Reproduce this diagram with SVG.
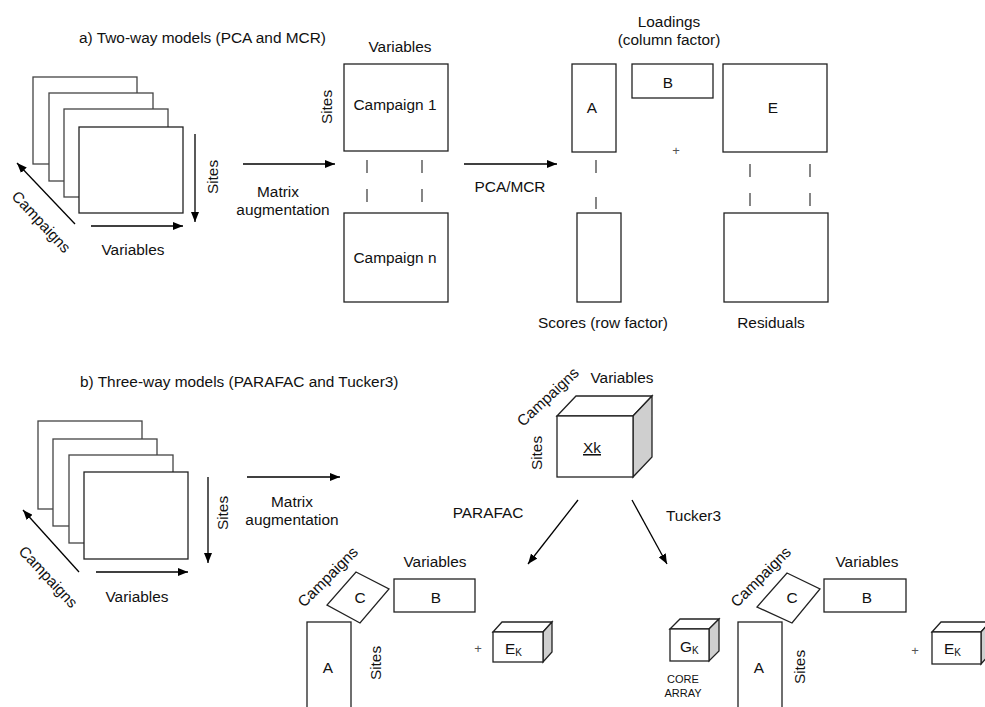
<svg xmlns="http://www.w3.org/2000/svg" width="985" height="707" viewBox="0 0 985 707">
<defs>
<marker id="ah" markerWidth="10" markerHeight="8" refX="10" refY="4" orient="auto" markerUnits="userSpaceOnUse">
<path d="M0,0 L10,4 L0,8 Z" fill="#000"/>
</marker>
<style>
text{font-family:"Liberation Sans",Arial,sans-serif;font-size:15.4px;fill:#111}
.m{text-anchor:middle}
.box{fill:#fff;stroke:#222;stroke-width:1.3}
.sheet{fill:#fff;stroke:#444;stroke-width:1.3}
.side{fill:#cfcfcf;stroke:#222;stroke-width:1.3}
.arr{stroke:#000;stroke-width:1.3;fill:none;marker-end:url(#ah)}
.dash{stroke:#444;stroke-width:1.3}
.plus{font-size:13px;fill:#555}
.small{font-size:11px}
</style>
</defs>
<rect width="985" height="707" fill="#fff"/>

<!-- Titles -->
<text x="79" y="43">a) Two-way models (PCA and MCR)</text>
<text x="80" y="387">b) Three-way models (PARAFAC and Tucker3)</text>

<!-- Part a: stack -->
<g id="stack-a">
<rect class="sheet" x="33" y="77" width="104" height="87"/>
<rect class="sheet" x="49" y="93" width="104" height="88"/>
<rect class="sheet" x="64" y="109" width="104" height="88"/>
<rect class="box" x="79" y="127" width="104" height="86"/>
<text transform="translate(213,177) rotate(-90)" class="m" y="5">Sites</text>
<text x="133" y="255" class="m">Variables</text>
<text transform="translate(41,222) rotate(47)" class="m" y="5">Campaigns</text>
</g>

<g id="augmented-a">
<text x="400" y="52" class="m">Variables</text>
<rect class="box" x="344" y="64" width="104" height="87"/>
<text x="395" y="110" class="m">Campaign 1</text>
<text transform="translate(327,107) rotate(-90)" class="m" y="5">Sites</text>
<rect class="box" x="344" y="213" width="104" height="89"/>
<text x="395" y="263" class="m">Campaign n</text>
<line class="dash" x1="367" y1="160" x2="367" y2="173"/>
<line class="dash" x1="367" y1="189" x2="367" y2="202"/>
<line class="dash" x1="422" y1="160" x2="422" y2="173"/>
<line class="dash" x1="422" y1="189" x2="422" y2="202"/>
</g>

<g id="factors-a">
<text x="669" y="27" class="m">Loadings</text>
<text x="669" y="45" class="m">(column factor)</text>
<rect class="box" x="572" y="64" width="44" height="88"/>
<text x="592" y="113" class="m">A</text>
<rect class="box" x="632" y="64" width="81" height="34"/>
<text x="668" y="88" class="m">B</text>
<text x="676" y="155" class="m plus">+</text>
<rect class="box" x="723" y="64" width="104" height="88"/>
<text x="773" y="113" class="m">E</text>
<line class="dash" x1="596" y1="160" x2="596" y2="173"/>
<line class="dash" x1="596" y1="197" x2="596" y2="209"/>
<rect class="box" x="577" y="213" width="44" height="89"/>
<text x="603" y="328" class="m">Scores (row factor)</text>
<line class="dash" x1="750" y1="164" x2="750" y2="177"/>
<line class="dash" x1="750" y1="193" x2="750" y2="206"/>
<line class="dash" x1="810" y1="164" x2="810" y2="177"/>
<line class="dash" x1="810" y1="193" x2="810" y2="206"/>
<rect class="box" x="724" y="213" width="104" height="89"/>
<text x="771" y="328" class="m">Residuals</text>
</g>

<!-- Part b: stack -->
<g id="stack-b">
<rect class="sheet" x="38" y="421" width="104" height="88"/>
<rect class="sheet" x="53" y="439" width="104" height="87"/>
<rect class="sheet" x="69" y="455" width="104" height="88"/>
<rect class="box" x="84" y="472" width="104" height="87"/>
<text transform="translate(223,513) rotate(-90)" class="m" y="5">Sites</text>
<text x="137" y="602" class="m">Variables</text>
<text transform="translate(48,577) rotate(47)" class="m" y="5">Campaigns</text>
</g>

<g id="cube-xk">
<polygon class="box" points="557,416 576,396 652,396 633,416"/>
<polygon class="side" points="633,416 652,396 652,457 633,477"/>
<rect class="box" x="557" y="416" width="76" height="61"/>
<text x="592" y="453" class="m" text-decoration="underline">Xk</text>
<text x="622" y="383" class="m">Variables</text>
<text transform="translate(548,397) rotate(-43)" class="m" y="5">Campaigns</text>
<text transform="translate(537,453) rotate(-90)" class="m" y="5">Sites</text>
</g>

<g id="parafac">
<text transform="translate(328,577) rotate(-45)" class="m" y="5">Campaigns</text>
<polygon class="box" points="356,572 389,589 360,623 327,605"/>
<text x="360" y="603" class="m">C</text>
<text x="435" y="567" class="m">Variables</text>
<rect class="box" x="394" y="579" width="81" height="33"/>
<text x="436" y="603" class="m">B</text>
<rect class="box" x="307" y="622" width="44" height="95"/>
<text x="328" y="673" class="m">A</text>
<text transform="translate(376,663) rotate(-90)" class="m" y="5">Sites</text>
<text x="478" y="653" class="m plus">+</text>
<polygon class="box" points="493,632 502,622 552,622 543,632"/>
<polygon class="side" points="543,632 552,622 552,652 543,662"/>
<rect class="box" x="493" y="632" width="50" height="30"/>
<text x="505" y="654">E<tspan font-size="10" dy="2">K</tspan></text>
</g>

<g id="tucker3">
<polygon class="box" points="670,629 680,619 719,619 709,629"/>
<polygon class="side" points="709,629 719,619 719,651 709,661"/>
<rect class="box" x="670" y="629" width="39" height="32"/>
<text x="680" y="652">G<tspan font-size="10" dy="2">K</tspan></text>
<text x="683" y="683" class="m small">CORE</text>
<text x="683" y="697" class="m small">ARRAY</text>
<text transform="translate(761,577) rotate(-45)" class="m" y="5">Campaigns</text>
<polygon class="box" points="787,573 820,589 792,623 757,607"/>
<text x="792" y="603" class="m">C</text>
<text x="867" y="567" class="m">Variables</text>
<rect class="box" x="824" y="579" width="82" height="33"/>
<text x="867" y="603" class="m">B</text>
<rect class="box" x="738" y="622" width="44" height="95"/>
<text x="759" y="673" class="m">A</text>
<text transform="translate(800,667) rotate(-90)" class="m" y="5">Sites</text>
<text x="915" y="655" class="m plus">+</text>
<polygon class="box" points="932,632 941,622 990,622 981,632"/>
<polygon class="side" points="981,632 990,622 990,654 981,664"/>
<rect class="box" x="932" y="632" width="49" height="32"/>
<text x="944" y="654">E<tspan font-size="10" dy="2">K</tspan></text>
</g>

<!-- Connectors -->
<g id="connectors">
<line class="arr" x1="195" y1="134" x2="195" y2="222"/>
<line class="arr" x1="91" y1="226" x2="183" y2="226"/>
<line class="arr" x1="75" y1="224" x2="17" y2="163"/>
<line class="arr" x1="243" y1="164" x2="335" y2="164"/>
<line class="arr" x1="464" y1="164" x2="557" y2="164"/>
<line class="arr" x1="208" y1="477" x2="208" y2="563"/>
<line class="arr" x1="96" y1="572" x2="188" y2="572"/>
<line class="arr" x1="79" y1="572" x2="23" y2="510"/>
<line class="arr" x1="247" y1="477" x2="340" y2="477"/>
<line class="arr" x1="578" y1="500" x2="528" y2="564"/>
<line class="arr" x1="632" y1="500" x2="667" y2="564"/>
</g>

<!-- Connector labels -->
<text x="278" y="197" class="m">Matrix</text>
<text x="283" y="215" class="m">augmentation</text>
<text x="510" y="192" class="m">PCA/MCR</text>
<text x="292" y="507" class="m">Matrix</text>
<text x="292" y="525" class="m">augmentation</text>
<text x="488" y="518" class="m">PARAFAC</text>
<text x="666" y="521">Tucker3</text>
</svg>
